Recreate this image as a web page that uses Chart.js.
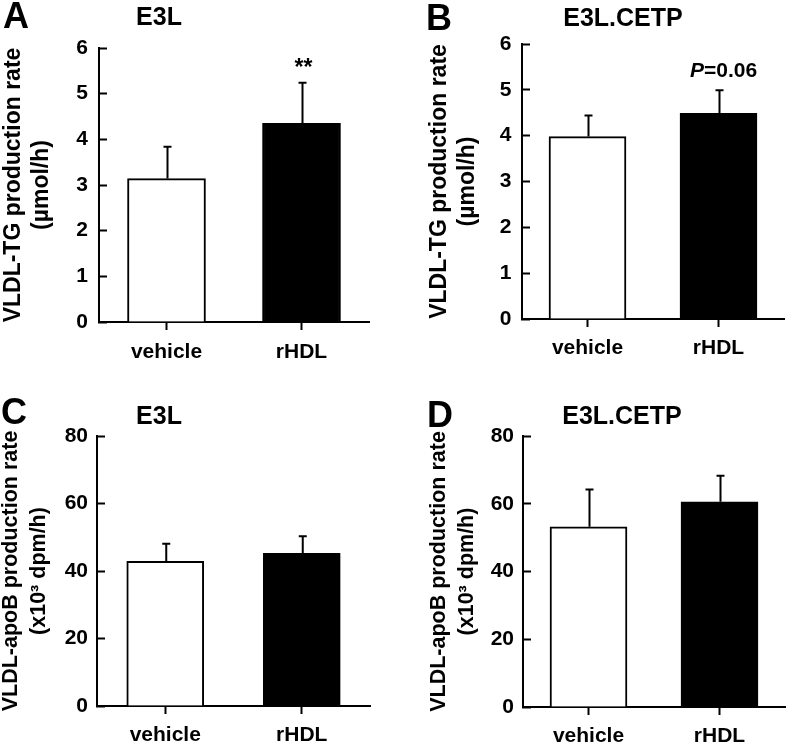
<!DOCTYPE html>
<html><head><meta charset="utf-8">
<script src="https://cdn.jsdelivr.net/npm/chart.js@4/dist/chart.umd.min.js"></script>
<style>
html,body{margin:0;padding:0;background:#fff;}
#wrap{position:relative;width:788px;height:747px;overflow:hidden;font-family:"Liberation Sans",Arial,sans-serif;font-weight:bold;color:#000;}
canvas{position:absolute;}
.lbl{position:absolute;line-height:1;white-space:nowrap;}
.letter{font-size:36px;}
.ttl{font-size:25px;width:200px;text-align:center;}
</style></head>
<body><div id="wrap">
<canvas id="cA" width="394" height="374" style="left:0;top:0"></canvas>
<canvas id="cB" width="394" height="374" style="left:394px;top:0"></canvas>
<canvas id="cC" width="394" height="373" style="left:0;top:374px"></canvas>
<canvas id="cD" width="394" height="373" style="left:394px;top:374px"></canvas>
<div class="lbl letter" style="left:3px;top:-2px">A</div>
<div class="lbl letter" style="left:426px;top:0px">B</div>
<div class="lbl letter" style="left:1px;top:394px">C</div>
<div class="lbl letter" style="left:427px;top:397px">D</div>
<div class="lbl ttl" style="left:59px;top:4px">E3L</div>
<div class="lbl ttl" style="left:523px;top:5px">E3L.CETP</div>
<div class="lbl ttl" style="left:59px;top:403px">E3L</div>
<div class="lbl ttl" style="left:522px;top:403px">E3L.CETP</div>
</div>
<script>
// ---- data ----
const categories = ['vehicle', 'rHDL'];
const tgE3L = [3.14, 4.35];
const tgE3LErr = [0.70, 0.89];
const tgE3LNotes = ['', '**'];
const tgCETP = [3.98, 4.49];
const tgCETPErr = [0.46, 0.50];
const tgCETPNotes = ['', 'P=0.06'];
const apoBE3L = [42.9, 45.2];
const apoBE3LErr = [5.2, 5.1];
const apoBE3LNotes = ['', ''];
const apoBCETP = [53.2, 60.6];
const apoBCETPErr = [11.0, 7.7];
const apoBCETPNotes = ['', ''];
const tgTicks = [0, 1, 2, 3, 4, 5, 6];
const apoBTicks = [0, 20, 40, 60, 80];
const tgTitle = ['VLDL-TG production rate', '(\u00b5mol/h)'];
const apoBTitle = ['VLDL-apoB production rate', '(x10\u00b3 dpm/h)'];
const barFill = ['#ffffff', '#000000'];

Chart.defaults.font.family = '"Liberation Sans", Arial, sans-serif';
Chart.defaults.font.weight = 'bold';
Chart.defaults.color = '#000';

const errorBarPlugin = {
  id: 'errorBars',
  afterDatasetsDraw(chart, args, opts) {
    const ctx = chart.ctx;
    const ys = chart.scales.y;
    const meta = chart.getDatasetMeta(0);
    const ds = chart.data.datasets[0];
    ctx.save();
    ctx.strokeStyle = '#000';
    ctx.lineWidth = 2;
    meta.data.forEach((bar, i) => {
      const v = ds.data[i], e = opts.errors[i];
      const yTop = ys.getPixelForValue(v + e);
      const x = bar.x + 1;
      ctx.beginPath();
      ctx.moveTo(x, bar.y);
      ctx.lineTo(x, yTop);
      ctx.moveTo(x - 4, yTop);
      ctx.lineTo(x + 4, yTop);
      ctx.stroke();
      const note = opts.notes[i];
      if (note) {
        const base = yTop - opts.noteGap;
        const cx = bar.x + opts.noteDx;
        ctx.fillStyle = '#000';
        ctx.textBaseline = 'alphabetic';
        if (note.startsWith('P')) {
          const fI = 'italic bold 21px "Liberation Sans", Arial, sans-serif';
          const fB = 'bold 21px "Liberation Sans", Arial, sans-serif';
          ctx.font = fI; const w1 = ctx.measureText('P').width;
          ctx.font = fB; const rest = note.slice(1); const w2 = ctx.measureText(rest).width;
          let x0 = cx - (w1 + w2) / 2;
          ctx.textAlign = 'left';
          ctx.font = fI; ctx.fillText('P', x0, base);
          ctx.font = fB; ctx.fillText(rest, x0 + w1, base);
        } else {
          ctx.font = 'bold 23px "Liberation Sans", Arial, sans-serif';
          ctx.textAlign = 'center';
          ctx.fillText(note, cx, base);
        }
      }
    });
    ctx.restore();
  }
};

function makePanel(id, values, errors, notes, ticks, title, L) {
  const step = ticks[1] - ticks[0];
  new Chart(document.getElementById(id), {
    type: 'bar',
    data: {
      labels: categories,
      datasets: [{
        data: values,
        backgroundColor: barFill,
        borderColor: '#000',
        borderWidth: 2,
        barThickness: L.barT
      }]
    },
    plugins: [errorBarPlugin],
    options: {
      responsive: false,
      animation: false,
      devicePixelRatio: 1,
      layout: { padding: { top: L.padTop, right: L.padRight, left: 0, bottom: 0 } },
      plugins: {
        legend: { display: false },
        tooltip: { enabled: false },
        errorBars: { errors: errors, notes: notes, noteGap: L.noteGap || 10, noteDx: L.noteDx || 0 }
      },
      scales: {
        x: {
          z: 1,
          offset: true,
          grid: { display: true, drawOnChartArea: false, offset: false, tickLength: 8, tickWidth: 2, tickColor: '#000' },
          border: { display: true, color: '#000', width: 2 },
          ticks: { padding: L.xPad, font: { size: 21, weight: 'bold' }, color: '#000' },
          afterFit(s) { s.height = L.xH; }
        },
        y: {
          z: 1,
          min: ticks[0],
          max: ticks[ticks.length - 1],
          grid: { display: true, drawOnChartArea: false, tickLength: -8, tickWidth: 2, tickColor: '#000' },
          border: { display: true, color: '#000', width: 2 },
          ticks: { stepSize: step, padding: L.tickPad, font: { size: 21, weight: 'bold' }, color: '#000' },
          title: { display: true, text: title, font: { size: L.titleSize, weight: 'bold', lineHeight: L.titleLH }, color: '#000', padding: { top: L.titlePad, bottom: 0 } },
          afterFit(s) { s.width = L.yW; }
        }
      }
    }
  });
}

makePanel('cA', tgE3L, tgE3LErr, tgE3LNotes, tgTicks, tgTitle,
  { padTop: 48, padRight: 25, yW: 99, xH: 52, titleSize: 23, titleLH: 1.2, titlePad: 0, tickPad: 19, xPad: 10, barT: 78, noteGap: 8, noteDx: 2 });
makePanel('cB', tgCETP, tgCETPErr, tgCETPNotes, tgTicks, tgTitle,
  { padTop: 44, padRight: 4, yW: 128, xH: 55, titleSize: 23, titleLH: 1.2, titlePad: 32, tickPad: 18.5, xPad: 9, barT: 77, noteGap: 13, noteDx: 5 });
makePanel('cC', apoBE3L, apoBE3LErr, apoBE3LNotes, apoBTicks, apoBTitle,
  { padTop: 62, padRight: 24, yW: 97, xH: 41, titleSize: 21.5, titleLH: 1.3, titlePad: -3, tickPad: 17, xPad: 9, barT: 77 });
makePanel('cD', apoBCETP, apoBCETPErr, apoBCETPNotes, apoBTicks, apoBTitle,
  { padTop: 62, padRight: 3, yW: 129, xH: 40, titleSize: 21.5, titleLH: 1.3, titlePad: 31.5, tickPad: 17, xPad: 9, barT: 77 });
</script>
</body></html>
